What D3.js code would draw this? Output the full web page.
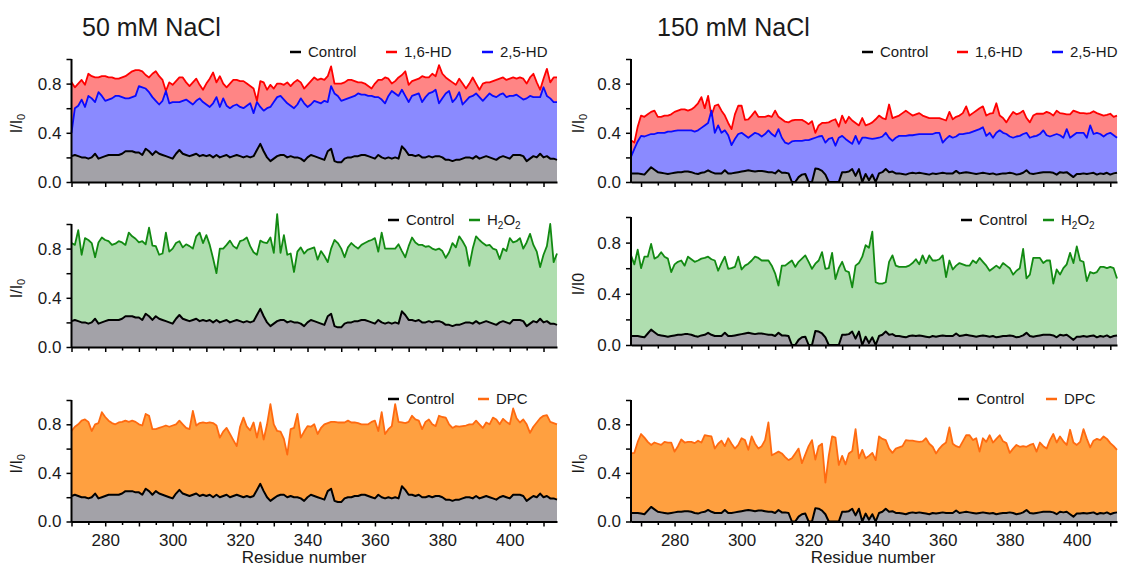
<!DOCTYPE html>
<html>
<head>
<meta charset="utf-8">
<script src="https://cdn.jsdelivr.net/npm/d3@7"></script>
<style>
body { margin: 0; background: #fff; }
text { font-family: "Liberation Sans", Arial, sans-serif; fill: #1a1a1a; }
</style>
</head>
<body>
<svg id="chart" width="1121" height="568"></svg>
<script>
// residue numbers: 50 mM panels start at 270, 150 mM panels at 267
var res50 = d3.range(270, 415);
var res150 = d3.range(267, 413);

// 50 mM NaCl
var control50 = [0.21,0.22,0.21,0.20,0.20,0.19,0.20,0.23,0.19,0.20,0.21,0.22,0.22,0.22,0.22,0.23,0.25,0.25,0.25,0.24,
 0.24,0.22,0.27,0.25,0.22,0.25,0.23,0.22,0.21,0.20,0.19,0.23,0.26,0.23,0.22,0.21,0.22,0.23,0.21,0.22,
 0.21,0.22,0.20,0.22,0.20,0.21,0.22,0.20,0.21,0.22,0.21,0.20,0.21,0.20,0.21,0.26,0.31,0.25,0.20,0.17,
 0.19,0.21,0.22,0.22,0.20,0.21,0.20,0.20,0.19,0.17,0.20,0.22,0.21,0.20,0.19,0.18,0.25,0.27,0.17,0.16,
 0.16,0.19,0.20,0.20,0.21,0.21,0.22,0.22,0.21,0.20,0.19,0.22,0.20,0.19,0.20,0.19,0.20,0.19,0.29,0.26,
 0.22,0.22,0.21,0.22,0.20,0.20,0.21,0.20,0.21,0.21,0.20,0.18,0.18,0.17,0.18,0.18,0.19,0.20,0.20,0.19,
 0.21,0.19,0.20,0.21,0.20,0.19,0.18,0.20,0.21,0.20,0.19,0.22,0.22,0.22,0.21,0.17,0.19,0.21,0.20,0.23,
 0.20,0.21,0.19,0.19,0.18];
var hd16_50 = [0.81,0.77,0.80,0.83,0.79,0.88,0.86,0.85,0.85,0.86,0.86,0.85,0.85,0.84,0.84,0.85,0.86,0.88,0.90,0.91,
 0.91,0.90,0.87,0.85,0.88,0.90,0.86,0.83,0.74,0.81,0.79,0.82,0.85,0.85,0.81,0.78,0.81,0.84,0.79,0.75,
 0.80,0.84,0.89,0.81,0.86,0.80,0.77,0.80,0.83,0.83,0.82,0.82,0.80,0.78,0.76,0.66,0.82,0.81,0.75,0.79,
 0.76,0.80,0.80,0.79,0.81,0.78,0.81,0.83,0.81,0.76,0.79,0.82,0.85,0.83,0.84,0.83,0.86,0.94,0.80,0.80,
 0.80,0.81,0.83,0.83,0.82,0.81,0.81,0.80,0.78,0.76,0.80,0.83,0.83,0.85,0.84,0.80,0.82,0.85,0.87,0.90,
 0.79,0.82,0.83,0.84,0.86,0.85,0.85,0.88,0.86,0.95,0.88,0.85,0.83,0.81,0.79,0.84,0.80,0.76,0.80,0.85,
 0.80,0.75,0.80,0.81,0.81,0.82,0.83,0.84,0.85,0.83,0.84,0.85,0.84,0.85,0.84,0.80,0.85,0.88,0.81,0.75,
 0.84,0.92,0.81,0.85,0.85];
var hd25_50 = [0.40,0.60,0.62,0.67,0.61,0.70,0.68,0.65,0.73,0.70,0.66,0.67,0.68,0.70,0.70,0.69,0.68,0.68,0.69,0.70,
 0.78,0.77,0.76,0.73,0.69,0.66,0.63,0.66,0.74,0.64,0.65,0.65,0.65,0.66,0.67,0.65,0.63,0.66,0.68,0.65,
 0.63,0.61,0.64,0.69,0.61,0.68,0.62,0.60,0.62,0.63,0.61,0.60,0.62,0.64,0.56,0.65,0.61,0.58,0.60,0.61,
 0.65,0.69,0.70,0.67,0.64,0.62,0.60,0.63,0.68,0.64,0.61,0.63,0.66,0.65,0.64,0.66,0.65,0.78,0.72,0.70,
 0.66,0.67,0.68,0.69,0.70,0.72,0.71,0.71,0.70,0.70,0.69,0.69,0.67,0.64,0.70,0.74,0.72,0.70,0.75,0.70,
 0.65,0.70,0.71,0.72,0.65,0.69,0.72,0.73,0.75,0.64,0.68,0.72,0.74,0.65,0.68,0.73,0.63,0.66,0.69,0.70,
 0.72,0.69,0.66,0.69,0.72,0.70,0.69,0.71,0.72,0.69,0.70,0.70,0.71,0.69,0.67,0.68,0.70,0.69,0.69,0.69,
 0.77,0.70,0.68,0.65,0.65];
var h2o2_50 = [0.845,0.83,0.95,0.75,0.885,0.87,0.845,0.73,0.85,0.89,0.87,0.86,0.83,0.84,0.86,0.85,0.83,0.93,0.90,0.88,
 0.85,0.86,0.835,0.97,0.825,0.82,0.75,0.76,0.93,0.775,0.80,0.845,0.86,0.81,0.835,0.82,0.80,0.90,0.93,0.845,
 0.91,0.83,0.72,0.60,0.80,0.80,0.83,0.865,0.82,0.80,0.86,0.87,0.89,0.82,0.77,0.75,0.865,0.85,0.845,0.89,
 0.765,1.08,0.765,0.91,0.75,0.76,0.61,0.775,0.81,0.76,0.79,0.80,0.81,0.71,0.78,0.74,0.69,0.80,0.87,0.845,
 0.80,0.73,0.81,0.845,0.82,0.80,0.83,0.845,0.86,0.87,0.885,0.775,0.93,0.80,0.80,0.80,0.80,0.835,0.78,0.73,
 0.82,0.89,0.85,0.83,0.83,0.815,0.82,0.80,0.79,0.80,0.78,0.725,0.77,0.845,0.81,0.90,0.86,0.81,0.66,0.80,
 0.90,0.87,0.845,0.825,0.83,0.80,0.79,0.715,0.80,0.78,0.885,0.85,0.86,0.885,0.80,0.85,0.92,0.83,0.775,0.65,
 0.75,0.82,1.0,0.69,0.76];
var dpc50 = [0.745,0.78,0.80,0.83,0.84,0.82,0.745,0.80,0.81,0.90,0.86,0.83,0.81,0.80,0.815,0.82,0.83,0.82,0.83,0.82,
 0.80,0.79,0.885,0.87,0.76,0.76,0.77,0.78,0.79,0.78,0.79,0.80,0.83,0.80,0.77,0.76,0.91,0.79,0.81,0.815,
 0.81,0.815,0.81,0.79,0.69,0.74,0.77,0.72,0.67,0.62,0.78,0.855,0.78,0.75,0.815,0.69,0.815,0.675,0.80,0.965,
 0.80,0.745,0.74,0.68,0.55,0.76,0.77,0.885,0.69,0.74,0.785,0.78,0.80,0.72,0.77,0.80,0.81,0.82,0.82,0.815,
 0.815,0.815,0.83,0.815,0.815,0.81,0.80,0.80,0.80,0.82,0.83,0.745,0.90,0.72,0.76,0.785,0.965,0.82,0.815,0.81,
 0.82,0.87,0.84,0.83,0.76,0.82,0.84,0.80,0.785,0.87,0.86,0.855,0.80,0.77,0.785,0.78,0.785,0.79,0.80,0.80,
 0.83,0.80,0.77,0.815,0.80,0.855,0.84,0.80,0.845,0.82,0.80,0.93,0.85,0.815,0.84,0.80,0.73,0.78,0.815,0.85,
 0.87,0.875,0.82,0.81,0.80];

// 150 mM NaCl
var control150 = [0.07,0.07,0.07,0.065,0.06,0.09,0.12,0.10,0.08,0.075,0.07,0.065,0.07,0.075,0.08,0.08,0.085,0.085,0.08,0.07,
 0.065,0.075,0.08,0.095,0.08,0.07,0.07,0.07,0.095,0.07,0.07,0.075,0.08,0.085,0.09,0.095,0.09,0.085,0.09,0.09,
 0.085,0.08,0.08,0.07,0.095,0.075,0.075,0.07,0.0,0.0,0.04,0.06,0.065,0.0,0.0,0.11,0.105,0.09,0.06,0.0,
 0.0,0.0,0.0,0.08,0.08,0.085,0.105,0.05,0.105,0.0,0.065,0.015,0.06,0.0,0.07,0.08,0.105,0.08,0.085,0.07,
 0.07,0.065,0.06,0.07,0.075,0.07,0.075,0.07,0.065,0.06,0.07,0.065,0.07,0.075,0.07,0.07,0.07,0.09,0.07,0.075,
 0.08,0.075,0.07,0.065,0.07,0.075,0.07,0.065,0.07,0.06,0.065,0.07,0.07,0.075,0.07,0.06,0.065,0.075,0.095,0.07,
 0.065,0.07,0.075,0.08,0.08,0.08,0.075,0.06,0.08,0.075,0.08,0.06,0.04,0.065,0.065,0.07,0.065,0.07,0.075,0.06,
 0.07,0.065,0.075,0.06,0.07,0.075];
var hd16_150 = [0.34,0.32,0.45,0.54,0.53,0.55,0.57,0.58,0.53,0.53,0.54,0.54,0.55,0.57,0.58,0.59,0.59,0.58,0.59,0.61,
 0.64,0.69,0.60,0.70,0.54,0.62,0.63,0.58,0.54,0.48,0.43,0.55,0.62,0.62,0.505,0.51,0.54,0.575,0.53,0.53,
 0.53,0.54,0.53,0.58,0.53,0.51,0.49,0.485,0.50,0.505,0.505,0.505,0.49,0.47,0.495,0.40,0.46,0.48,0.48,0.485,
 0.50,0.51,0.45,0.54,0.48,0.53,0.50,0.48,0.46,0.52,0.46,0.47,0.485,0.51,0.54,0.52,0.51,0.63,0.52,0.53,
 0.54,0.56,0.58,0.56,0.54,0.55,0.56,0.54,0.53,0.52,0.52,0.52,0.52,0.51,0.50,0.57,0.51,0.53,0.54,0.56,
 0.615,0.54,0.56,0.58,0.60,0.615,0.54,0.555,0.56,0.64,0.54,0.52,0.485,0.53,0.57,0.55,0.56,0.58,0.52,0.485,
 0.54,0.555,0.555,0.555,0.57,0.56,0.54,0.58,0.56,0.555,0.55,0.55,0.58,0.57,0.56,0.56,0.555,0.56,0.575,0.56,
 0.55,0.54,0.545,0.555,0.53,0.54];
var hd25_150 = [0.205,0.27,0.33,0.375,0.37,0.38,0.39,0.39,0.40,0.40,0.40,0.41,0.41,0.415,0.42,0.42,0.42,0.42,0.42,0.41,
 0.42,0.44,0.46,0.48,0.58,0.40,0.46,0.40,0.42,0.38,0.30,0.35,0.39,0.40,0.38,0.36,0.38,0.40,0.39,0.37,
 0.39,0.42,0.39,0.37,0.43,0.36,0.32,0.31,0.33,0.335,0.335,0.335,0.34,0.34,0.35,0.36,0.37,0.375,0.32,0.35,
 0.36,0.295,0.36,0.375,0.35,0.33,0.31,0.375,0.31,0.36,0.36,0.355,0.35,0.355,0.36,0.37,0.40,0.36,0.335,0.36,
 0.375,0.375,0.375,0.38,0.38,0.385,0.39,0.39,0.39,0.39,0.39,0.40,0.40,0.32,0.35,0.375,0.36,0.37,0.39,0.39,
 0.395,0.40,0.41,0.42,0.43,0.445,0.375,0.40,0.36,0.40,0.42,0.40,0.39,0.37,0.36,0.37,0.375,0.39,0.40,0.36,
 0.37,0.375,0.39,0.42,0.38,0.37,0.38,0.39,0.38,0.36,0.43,0.36,0.38,0.40,0.40,0.40,0.36,0.46,0.39,0.40,
 0.39,0.37,0.39,0.40,0.38,0.36];
var h2o2_150 = [0.70,0.63,0.745,0.60,0.69,0.69,0.79,0.675,0.69,0.725,0.69,0.675,0.57,0.63,0.65,0.66,0.62,0.69,0.67,0.65,
 0.66,0.675,0.68,0.69,0.67,0.66,0.58,0.64,0.69,0.595,0.60,0.61,0.69,0.59,0.62,0.635,0.66,0.69,0.68,0.66,
 0.66,0.66,0.62,0.56,0.465,0.62,0.62,0.64,0.66,0.61,0.65,0.675,0.70,0.65,0.595,0.635,0.66,0.725,0.595,0.60,
 0.72,0.515,0.60,0.65,0.58,0.57,0.45,0.62,0.64,0.69,0.78,0.76,0.885,0.49,0.48,0.48,0.49,0.65,0.70,0.62,
 0.61,0.61,0.61,0.62,0.64,0.67,0.63,0.70,0.64,0.70,0.66,0.66,0.67,0.70,0.53,0.66,0.59,0.62,0.64,0.63,
 0.62,0.62,0.66,0.64,0.68,0.65,0.62,0.58,0.60,0.62,0.60,0.64,0.62,0.60,0.55,0.58,0.60,0.75,0.52,0.55,
 0.68,0.68,0.68,0.64,0.66,0.66,0.48,0.59,0.55,0.60,0.63,0.72,0.64,0.77,0.66,0.65,0.50,0.57,0.56,0.57,
 0.61,0.61,0.60,0.61,0.60,0.52];
var dpc150 = [0.56,0.565,0.655,0.72,0.69,0.655,0.63,0.65,0.64,0.63,0.655,0.65,0.65,0.575,0.62,0.675,0.65,0.655,0.655,0.645,
 0.665,0.65,0.71,0.705,0.70,0.60,0.64,0.665,0.62,0.685,0.64,0.60,0.63,0.685,0.67,0.59,0.70,0.64,0.60,0.62,
 0.67,0.815,0.545,0.56,0.575,0.56,0.53,0.505,0.52,0.56,0.60,0.48,0.55,0.62,0.67,0.51,0.62,0.64,0.32,0.54,
 0.70,0.69,0.465,0.54,0.47,0.56,0.58,0.76,0.52,0.59,0.52,0.54,0.565,0.505,0.70,0.68,0.67,0.60,0.565,0.60,
 0.61,0.62,0.67,0.665,0.665,0.66,0.655,0.66,0.685,0.64,0.615,0.56,0.60,0.63,0.65,0.775,0.64,0.62,0.61,0.66,
 0.71,0.71,0.67,0.685,0.575,0.685,0.655,0.71,0.65,0.68,0.71,0.66,0.645,0.565,0.60,0.63,0.615,0.62,0.615,0.63,
 0.64,0.575,0.65,0.62,0.60,0.67,0.72,0.65,0.70,0.66,0.63,0.755,0.65,0.63,0.655,0.76,0.68,0.61,0.665,0.68,
 0.67,0.70,0.68,0.645,0.62,0.59];

var yTicks = [0, 0.2, 0.4, 0.6, 0.8, 1.0];
var yLabelled = [0, 0.4, 0.8];
var xLabels = [280, 300, 320, 340, 360, 380, 400];

var colours = {
  control: {line: "#000000", fill: "#a3a2a8"},
  hd16: {line: "#ff0000", fill: "#ff8585"},
  hd25: {line: "#0a0aff", fill: "#8a8aff"},
  h2o2: {line: "#128a12", fill: "#afdeaf"},
  dpc: {line: "#ff6a10", fill: "#ffa040"}
};

var svg = d3.select("#chart");

var columns = [
  {x0: 71.5, x1: 557, domain: [270, 414], res: res50, control: control50, title: "50 mM NaCl", titleX: 82, labelX: 22, xTitle: 304},
  {x0: 631, x1: 1117, domain: [267, 412], res: res150, control: control150, title: "150 mM NaCl", titleX: 657, labelX: 584, xTitle: 873}
];

var panels = [
  {col: 0, top: 59, bot: 182, series: [["hd16", "1,6-HD", hd16_50], ["hd25", "2,5-HD", hd25_50]], legend: [290, 386, 482], legendY: 52, sub: true},
  {col: 1, top: 59, bot: 182, series: [["hd16", "1,6-HD", hd16_150], ["hd25", "2,5-HD", hd25_150]], legend: [862, 957, 1052], legendY: 52, sub: true},
  {col: 0, top: 224, bot: 347, series: [["h2o2", "H2O2", h2o2_50]], legend: [388, 469], legendY: 220, sub: true},
  {col: 1, top: 217, bot: 345, series: [["h2o2", "H2O2", h2o2_150]], legend: [961, 1043], legendY: 220, sub: false},
  {col: 0, top: 400, bot: 521.5, series: [["dpc", "DPC", dpc50]], legend: [388, 478], legendY: 399, sub: true, xlab: true},
  {col: 1, top: 400, bot: 521.5, series: [["dpc", "DPC", dpc150]], legend: [958, 1046], legendY: 399, sub: true, xlab: true}
];

columns.forEach(function(c) {
  svg.append("text")
    .attr("x", c.titleX).attr("y", 36)
    .style("font-size", "25px")
    .text(c.title);
});

panels.forEach(function(p) {
  var c = columns[p.col];
  var g = svg.append("g");
  var x = d3.scaleLinear().domain(c.domain).range([c.x0, c.x1]);
  var y = d3.scaleLinear().domain([0, 1]).range([p.bot, p.top]);

  var area = d3.area()
    .x(function(d, i) { return x(c.res[i]); })
    .y0(y(0))
    .y1(function(d) { return y(d); });
  var line = d3.line()
    .x(function(d, i) { return x(c.res[i]); })
    .y(function(d) { return y(d); });

  // fills first, control fill on top, then the lines
  p.series.forEach(function(s) {
    g.append("path").datum(s[2]).attr("d", area).attr("fill", colours[s[0]].fill);
  });
  g.append("path").datum(c.control).attr("d", area).attr("fill", colours.control.fill);
  p.series.forEach(function(s) {
    g.append("path").datum(s[2]).attr("d", line)
      .attr("fill", "none").attr("stroke", colours[s[0]].line)
      .attr("stroke-width", 1.8).attr("stroke-linejoin", "round");
  });
  g.append("path").datum(c.control).attr("d", line)
    .attr("fill", "none").attr("stroke", "#000")
    .attr("stroke-width", 2).attr("stroke-linejoin", "round");

  // y axis
  var yAxis = g.append("g")
    .attr("transform", "translate(" + c.x0 + ",0)")
    .call(d3.axisLeft(y).tickValues(yTicks).tickSize(5).tickSizeOuter(0)
      .tickFormat(function(d) { return yLabelled.indexOf(d) >= 0 ? d3.format(".1f")(d) : ""; }));
  yAxis.select(".domain").attr("stroke-width", 2).attr("d", "M0," + (p.bot + 1) + "V" + p.top);
  yAxis.selectAll(".tick line").attr("stroke-width", 1.5);
  yAxis.selectAll("text").style("font-size", "17px").attr("x", -10).attr("fill", "#1a1a1a").attr("font-family", null);

  // x axis
  var xTicks = d3.range(270, c.domain[1] + 1, 5);
  var xAxis = g.append("g")
    .attr("transform", "translate(0," + p.bot + ")")
    .call(d3.axisBottom(x).tickValues(xTicks).tickSize(5).tickSizeOuter(0)
      .tickFormat(function(d) { return p.xlab && xLabels.indexOf(d) >= 0 ? d : ""; }));
  xAxis.select(".domain").attr("stroke-width", 2);
  xAxis.selectAll(".tick line").attr("stroke-width", 1.5)
    .attr("y2", function(d) { return d % 10 === 0 ? 5 : 3.5; });
  xAxis.selectAll("text").style("font-size", "17px").attr("y", 12).attr("fill", "#1a1a1a").attr("font-family", null);

  if (p.xlab) {
    svg.append("text")
      .attr("x", c.xTitle).attr("y", 563)
      .attr("text-anchor", "middle")
      .style("font-size", "17px")
      .text("Residue number");
  }

  // y label
  var yl = svg.append("text")
    .attr("transform", "translate(" + c.labelX + "," + ((p.top + p.bot) / 2 + 3) + ") rotate(-90)")
    .attr("text-anchor", "middle")
    .style("font-size", "16px")
    .text("I/I");
  if (p.sub) {
    yl.append("tspan").attr("dy", 3).style("font-size", "11px").text("0");
  } else {
    yl.append("tspan").text("0");
  }

  // legend
  var items = [["control", "Control"]].concat(p.series.map(function(s) { return [s[0], s[1]]; }));
  items.forEach(function(it, i) {
    var lx = p.legend[i];
    svg.append("line")
      .attr("x1", lx).attr("x2", lx + 11)
      .attr("y1", p.legendY).attr("y2", p.legendY)
      .attr("stroke", colours[it[0]].line).attr("stroke-width", 2.5);
    var t = svg.append("text")
      .attr("x", lx + 18).attr("y", p.legendY + 5)
      .style("font-size", "15px");
    if (it[1] === "H2O2") {
      t.append("tspan").text("H");
      t.append("tspan").attr("dy", 4).style("font-size", "10px").text("2");
      t.append("tspan").attr("dy", -4).text("O");
      t.append("tspan").attr("dy", 4).style("font-size", "10px").text("2");
    } else {
      t.text(it[1]);
    }
  });
});
</script>
</body>
</html>
